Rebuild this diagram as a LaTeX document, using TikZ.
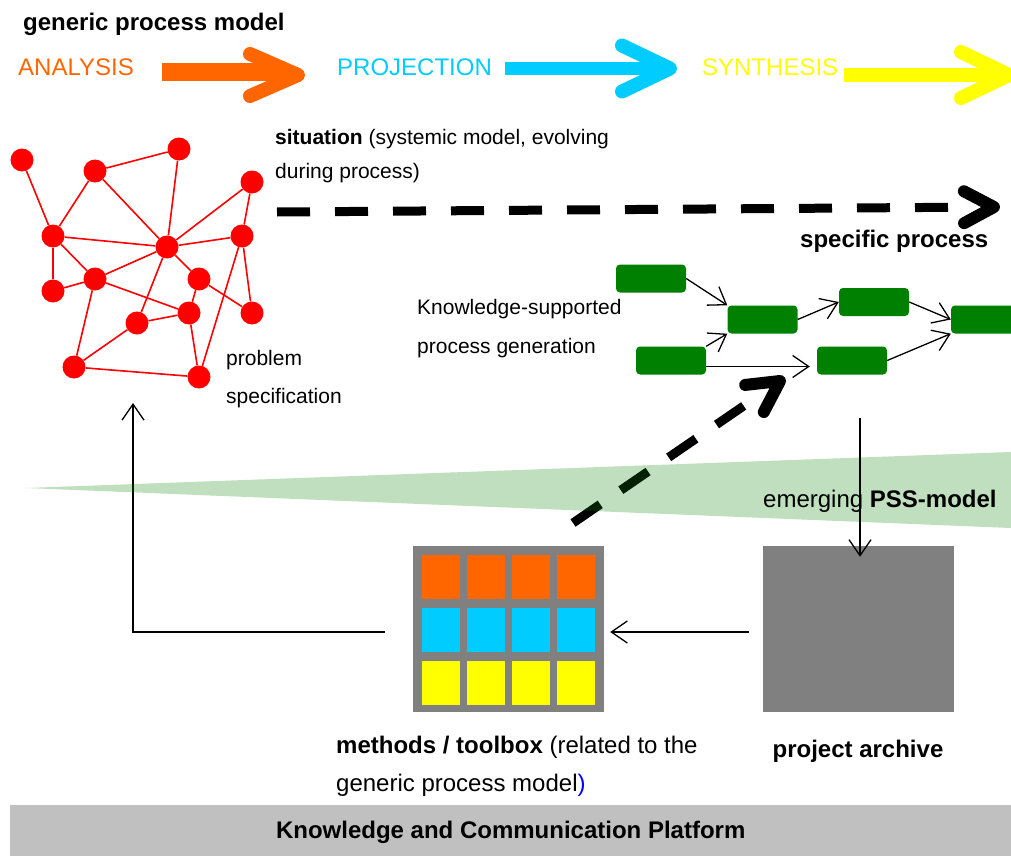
\documentclass[tikz,border=0pt]{standalone}
\usepackage{fontspec}
\setmainfont{Liberation Sans}
\usetikzlibrary{arrows.meta,positioning,calc}

\definecolor{anaorange}{RGB}{255,102,0}
\definecolor{projcyan}{RGB}{0,204,255}
\definecolor{synyellow}{RGB}{255,255,0}
\definecolor{procgreen}{RGB}{0,128,0}
\definecolor{archivegray}{RGB}{128,128,128}
\definecolor{platformgray}{RGB}{192,192,192}

\tikzset{
  big/.style={font=\fontsize{24}{38}\selectfont, inner sep=0pt},
  small/.style={font=\fontsize{21}{38}\selectfont, inner sep=0pt},
  netnode/.style={circle, fill=red, minimum size=23pt, inner sep=0pt},
  netedge/.style={red, line width=1.6pt},
  stepbox/.style={rectangle, rounded corners=4pt, fill=procgreen, minimum width=70pt, minimum height=28pt, inner sep=0pt},
  cell/.style={rectangle, minimum width=38pt, minimum height=44pt, inner sep=0pt},
  block/.style={rectangle, fill=archivegray, minimum width=191pt, minimum height=166pt, inner sep=0pt},
  thinarrow/.style={line width=1.3pt, -{Straight Barb[length=16pt,width=22pt]}},
  phasehead/.style={line width=14pt, line cap=round, line join=round},
  dashshaft/.style={line width=9pt, dash pattern=on 33pt off 25pt},
  dashhead/.style={line width=12pt, line cap=round, line join=round},
}

\begin{document}
\begin{tikzpicture}[x=1pt, y=-1pt]
  \useasboundingbox (0,0) rectangle (1011,856);

  % generic process model
  \node[big, anchor=base west] (title) at (23,31) {\bfseries generic process model};
  \node[big, anchor=base west, text=anaorange] (analysis) at (18,76) {ANALYSIS};
  \node[big, anchor=base west, text=projcyan] (projection) at (337,76) {PROJECTION};
  \node[big, anchor=base west, text=synyellow] (synthesis) at (702,76) {SYNTHESIS};

  \coordinate (ana-from) at (162,72);  \coordinate (ana-end) at (286,72);  \coordinate (ana-tip) at (298,75);
  \coordinate (proj-from) at (505,68.5); \coordinate (proj-end) at (658,68.5); \coordinate (proj-tip) at (670,68.5);
  \coordinate (syn-from) at (844,75);  \coordinate (syn-end) at (1000,75); \coordinate (syn-tip) at (1009,75);

  \draw[anaorange, line width=18pt] (ana-from) -- (ana-end);
  \draw[phasehead, anaorange] ($(ana-tip)+(-48,-21)$) -- (ana-tip) -- ($(ana-tip)+(-48,21)$);
  \draw[projcyan, line width=13pt] (proj-from) -- (proj-end);
  \draw[phasehead, projcyan] ($(proj-tip)+(-48,-23)$) -- (proj-tip) -- ($(proj-tip)+(-48,23)$);
  \draw[synyellow, line width=14pt] (syn-from) -- (syn-end);
  \draw[phasehead, synyellow] ($(syn-tip)+(-48,-23)$) -- (syn-tip) -- ($(syn-tip)+(-48,23)$);

  % situation network
  \foreach \i/\x/\y in {1/22/160, 2/95/171, 3/179/149, 4/252/182, 5/53/236,
                        6/167/247, 7/242/236, 8/53/291, 9/95/279, 10/199/279,
                        11/189/313, 12/252/313, 13/137/323, 14/74/367, 15/199/377}
    \node[netnode] (n\i) at (\x,\y) {};
  \foreach \a/\b in {1/5, 2/5, 2/3, 2/6, 3/6, 4/6, 4/7, 5/6, 5/8, 5/9, 6/7, 6/9, 6/10,
                     6/13, 7/12, 7/15, 8/9, 9/11, 9/14, 10/11, 10/12, 11/13, 11/15, 13/14, 14/15}
    \draw[netedge] (n\a) -- (n\b);

  \node[small, anchor=base west, align=left, font=\fontsize{21}{34}\selectfont] (situation) at (275,178)
    {\textbf{situation} (systemic model, evolving\\during process)};
  \node[small, anchor=base west, align=left] (problem) at (226,403) {problem\\specification};

  % specific process
  \coordinate (spec-from) at (277,212);
  \coordinate (spec-tip) at (994,207);
  \draw[dashshaft] (spec-from) -- ($(spec-tip)!39pt!(spec-from)$);
  \draw[dashhead] ($(spec-tip)!34pt!28:(spec-from)$) -- (spec-tip) -- ($(spec-tip)!34pt!-28:(spec-from)$);
  \node[big, anchor=base west] (specific) at (800,247) {\bfseries specific process};

  \node[small, anchor=base west, align=left, font=\fontsize{21}{39}\selectfont] (generation) at (417,353)
    {Knowledge-supported\\process generation};

  \node[stepbox] (s1) at (651,278.5) {};
  \node[stepbox] (s2) at (762.5,319.5) {};
  \node[stepbox] (s3) at (874,302) {};
  \node[stepbox] (s4) at (986,319.5) {};
  \node[stepbox] (s5) at (671,360.5) {};
  \node[stepbox] (s6) at (852,360.5) {};

  \draw[thinarrow] (s1.east) -- (s2.north west);
  \draw[thinarrow] (s5.north east) -- (s2.south west);
  \draw[thinarrow, shorten >=7pt] ([yshift=-6pt]s5.east) -- ([yshift=-6pt]s6.west);
  \draw[thinarrow] (s2.east) -- (s3.west);
  \draw[thinarrow] (s3.east) -- (s4.west);
  \draw[thinarrow] (s6.east) -- (s4.south west);

  % methods and archive
  \node[block] (toolbox) at (508.5,629) {};
  \foreach \col/\cx in {1/441, 2/486, 3/531, 4/576}
    \foreach \row/\cy/\cc in {1/577/anaorange, 2/630/projcyan, 3/683/synyellow}
      \node[cell, fill=\cc] (cell\row\col) at (\cx,\cy) {};
  \node[block] (archive) at (858.5,629) {};

  \coordinate (tool-out) at (573,523);
  \coordinate (gen-in) at (780,381);
  \draw[dashshaft] (tool-out) -- ($(gen-in)!20pt!(tool-out)$);
  \draw[dashhead] ($(gen-in)!35pt!28:(tool-out)$) -- (gen-in) -- ($(gen-in)!35pt!-28:(tool-out)$);

  \coordinate (spec-in) at (133,403);
  \draw[thinarrow, shorten <=28pt] ([yshift=-3pt]toolbox.west) -| (spec-in);
  \draw[thinarrow, shorten <=14pt, shorten >=6pt] ([yshift=-3pt]archive.west) -- ([yshift=-3pt]toolbox.east);

  % emerging PSS-model
  \fill[procgreen, fill opacity=0.25] (26,488) -- (1011,452) -- (1011,528) -- cycle;
  \coordinate (pss-from) at (860,418);
  \draw[thinarrow] (pss-from) -- ([yshift=-11pt]pss-from |- archive.north);
  \node[big, anchor=base west] (pss) at (763,507) {emerging \textbf{PSS-model}};

  \node[big, anchor=base west, align=left] (methods) at (336,791)
    {\textbf{methods / toolbox} (related to the\\generic process model\textcolor{blue}{)}};
  \node[big, anchor=base] (archlabel) at (858,757) {\bfseries project archive};

  % platform
  \node[fill=platformgray, minimum width=1001pt, minimum height=51pt, inner sep=0pt, anchor=south west,
        text depth=2pt, font=\fontsize{24}{28}\selectfont\bfseries] (platform) at (10,856) {Knowledge and Communication Platform};
\end{tikzpicture}
\end{document}
